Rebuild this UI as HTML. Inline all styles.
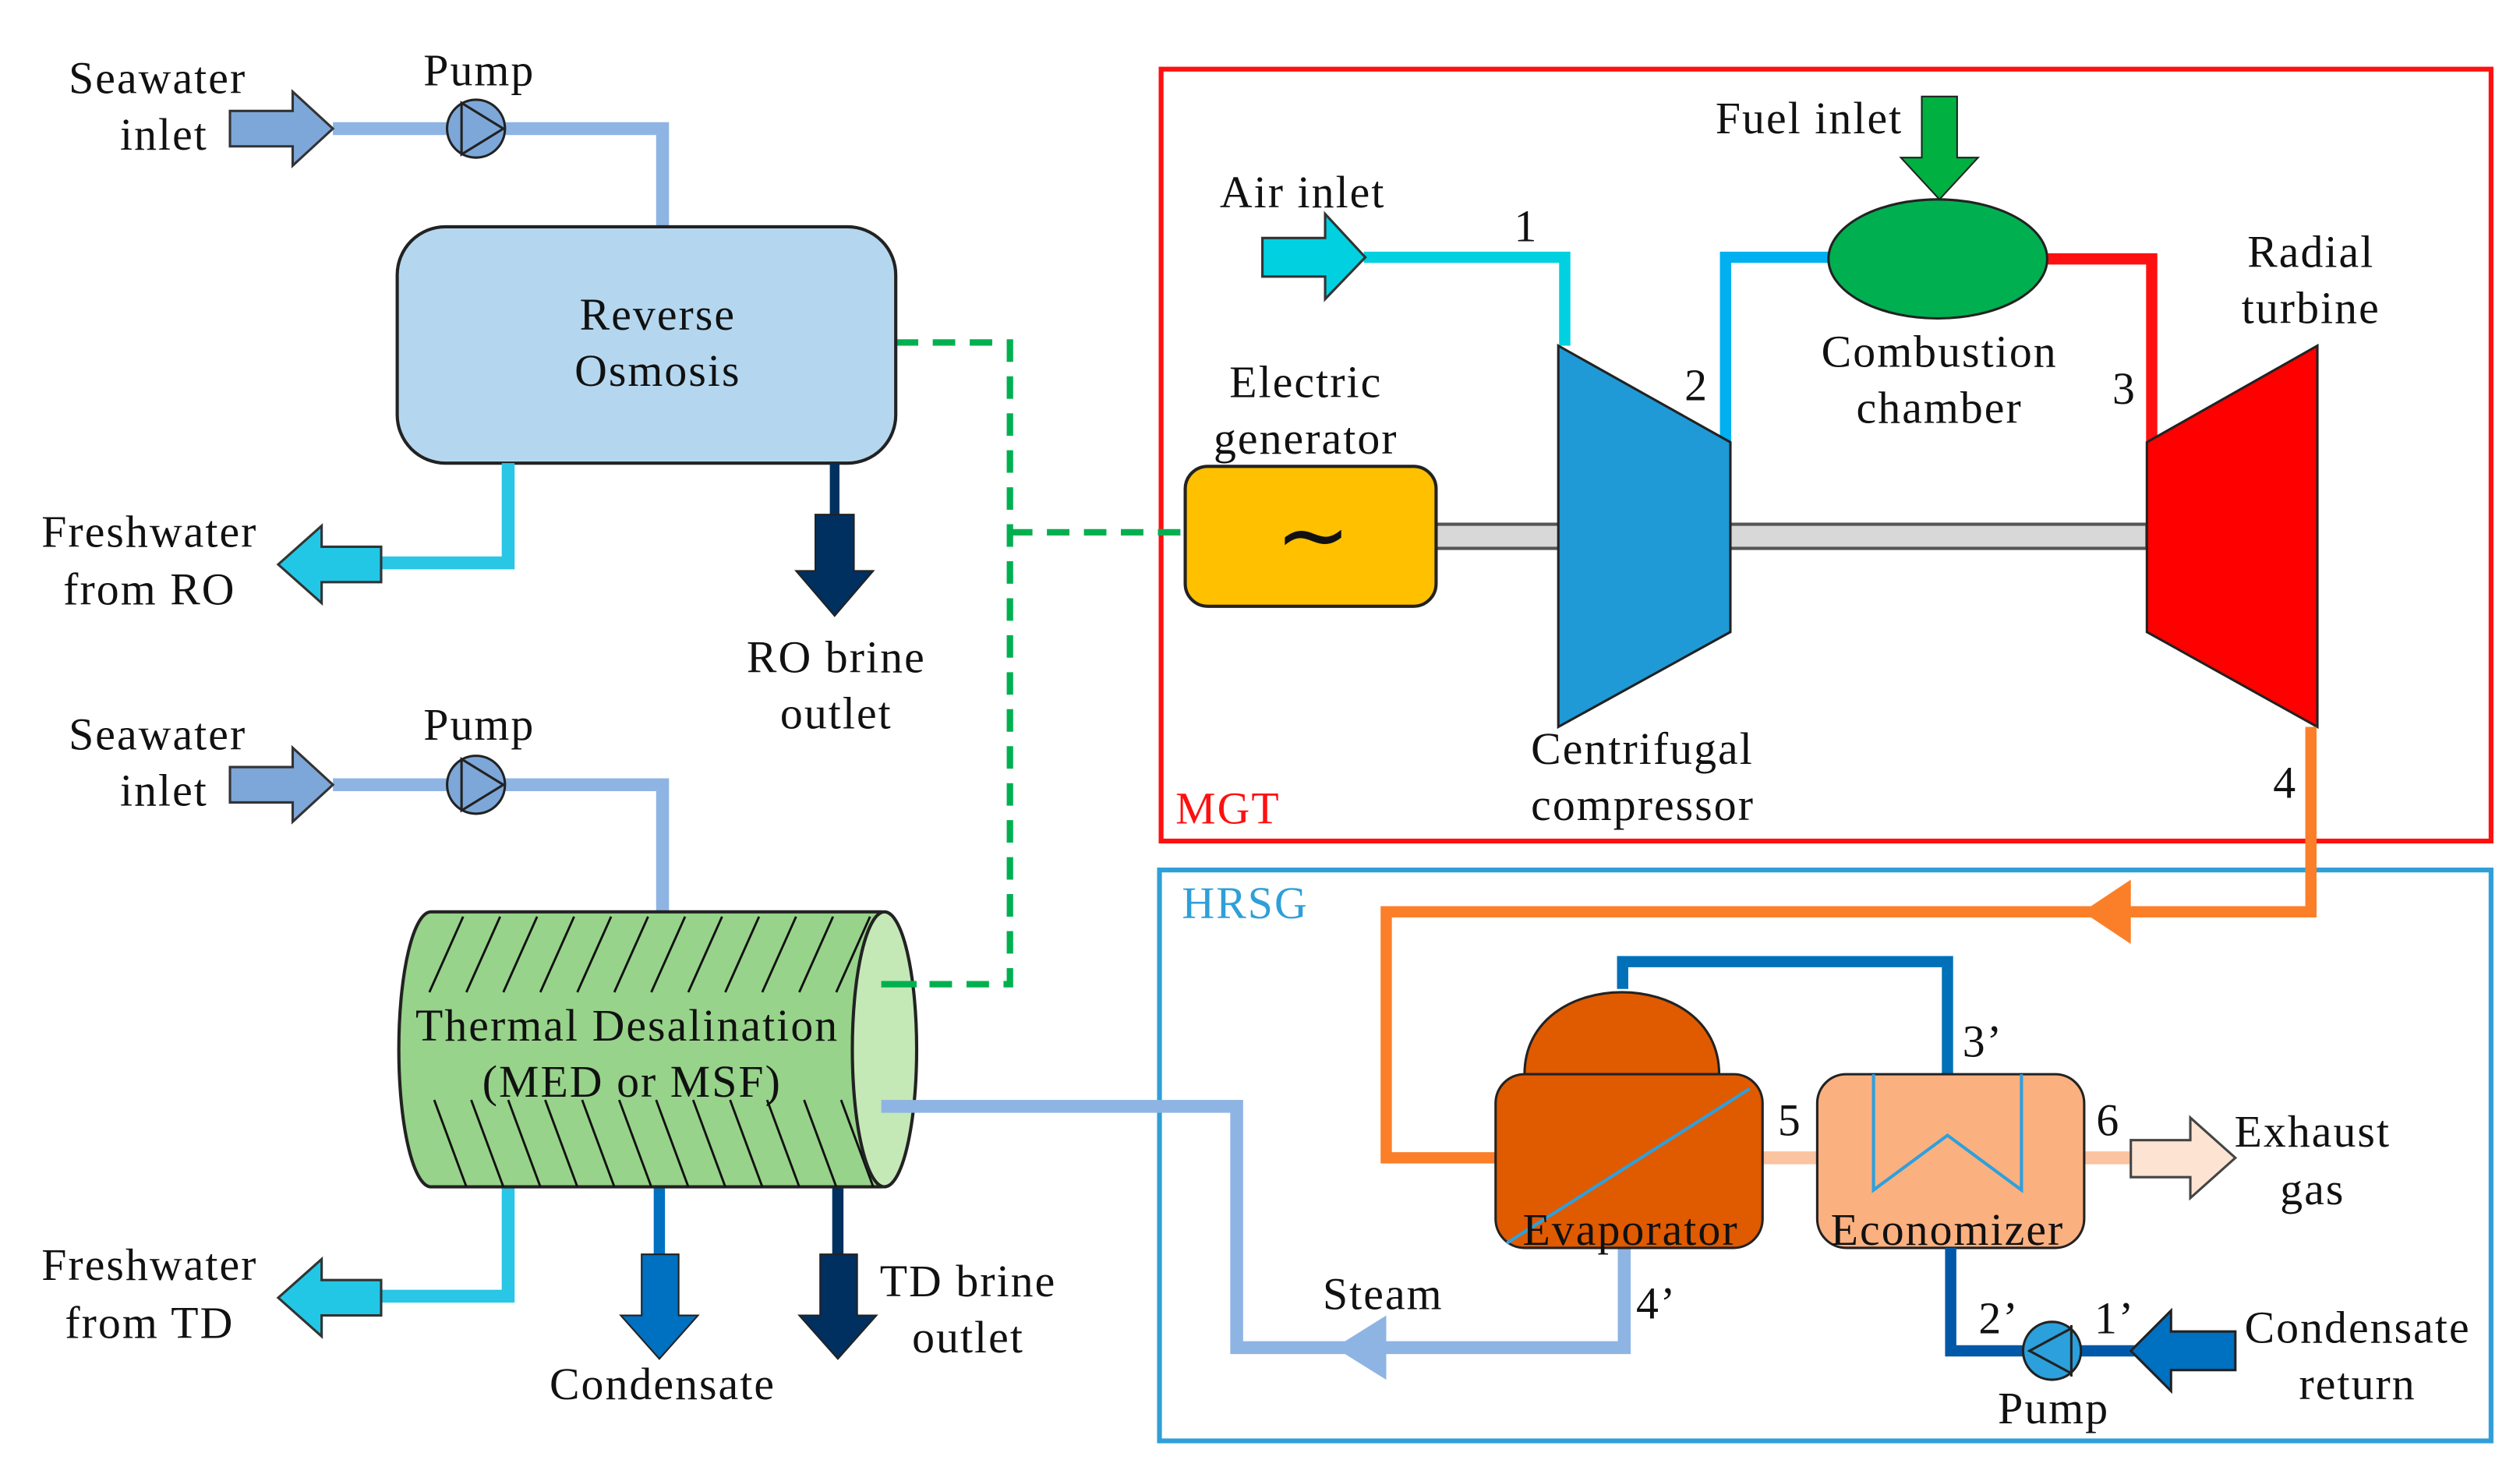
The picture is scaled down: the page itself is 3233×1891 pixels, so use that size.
<!DOCTYPE html>
<html><head><meta charset="utf-8"><style>
html,body{margin:0;padding:0;background:#fff;}
svg{display:block;}
text{font-family:"Liberation Serif","DejaVu Serif",serif;font-size:28px;letter-spacing:1px;fill:#111;}
</style></head><body>
<svg width="3233" height="1891" viewBox="0 0 1567 916.6" preserveAspectRatio="none" xmlns="http://www.w3.org/2000/svg">
<defs>
<clipPath id="cyl"><path d="M268,567 L548,567 A20,85.5 0 0 1 548,738 L268,738 A20,85.5 0 0 1 268,567 Z"/></clipPath>
</defs>
<rect width="1567" height="916.6" fill="#fff"/>

<!-- Frames -->
<rect x="722" y="43" width="827" height="480" fill="none" stroke="#ff1010" stroke-width="3"/>
<text x="731" y="512" style="fill:#ff1010">MGT</text>
<rect x="721" y="541" width="828" height="355" fill="none" stroke="#2f9fd8" stroke-width="3"/>
<text x="735" y="571" style="fill:#2f9fd8">HRSG</text>

<!-- Green dashed -->
<g fill="none" stroke="#00b050" stroke-width="4" stroke-dasharray="14 9">
<path d="M557,213 H628 V612 H548"/>
<path d="M628,331 H737"/>
</g>

<!-- RO section -->
<path d="M207,80 H412 V141" fill="none" stroke="#8eb4e3" stroke-width="8"/>
<path d="M143,69 H182 V57 L207,80 L182,103 V91 H143 Z" fill="#7da7d9" stroke="#333" stroke-width="1.5"/>
<circle cx="296" cy="80" r="18" fill="#7da7d9" stroke="#222" stroke-width="1.5"/>
<path d="M287,64 L313,80 L287,96 Z" fill="none" stroke="#222" stroke-width="1.5"/>
<text x="98" y="58" text-anchor="middle">Seawater</text>
<text x="102" y="93" text-anchor="middle">inlet</text>
<text x="298" y="53" text-anchor="middle">Pump</text>

<rect x="247" y="141" width="310" height="147" rx="30" fill="#b4d7ef" stroke="#222" stroke-width="2"/>
<text x="409" y="205" text-anchor="middle">Reverse</text>
<text x="409" y="240" text-anchor="middle">Osmosis</text>

<path d="M316,288 V350 H237" fill="none" stroke="#29c6e6" stroke-width="8"/>
<path d="M237,340 H200 V327 L173,351 L200,375 V362 H237 Z" fill="#22c7e6" stroke="#333" stroke-width="1.5"/>
<text x="93" y="340" text-anchor="middle">Freshwater</text>
<text x="93" y="376" text-anchor="middle">from RO</text>

<path d="M519,288 V320" stroke="#003060" stroke-width="6"/>
<path d="M507,320 H531 V355 H543 L519,383 L495,355 H507 Z" fill="#003060" stroke="#222" stroke-width="1"/>
<text x="520" y="418" text-anchor="middle">RO brine</text>
<text x="520" y="453" text-anchor="middle">outlet</text>

<!-- TD section -->
<path d="M207,488 H412 V567" fill="none" stroke="#8eb4e3" stroke-width="8"/>
<path d="M143,477 H182 V465 L207,488 L182,511 V499 H143 Z" fill="#7da7d9" stroke="#333" stroke-width="1.5"/>
<circle cx="296" cy="488" r="18" fill="#7da7d9" stroke="#222" stroke-width="1.5"/>
<path d="M287,472 L313,488 L287,504 Z" fill="none" stroke="#222" stroke-width="1.5"/>
<text x="98" y="466" text-anchor="middle">Seawater</text>
<text x="102" y="501" text-anchor="middle">inlet</text>
<text x="298" y="460" text-anchor="middle">Pump</text>

<path d="M316,738 V806 H237" fill="none" stroke="#29c6e6" stroke-width="8"/>
<path d="M237,796 H200 V783 L173,807 L200,831 V818 H237 Z" fill="#22c7e6" stroke="#333" stroke-width="1.5"/>
<text x="93" y="796" text-anchor="middle">Freshwater</text>
<text x="93" y="832" text-anchor="middle">from TD</text>

<path d="M410,738 V782" stroke="#0070c0" stroke-width="7"/>
<path d="M399,780 H422 V818 H434 L410,845 L386,818 H399 Z" fill="#0070c0" stroke="#222" stroke-width="1"/>
<text x="412" y="870" text-anchor="middle">Condensate</text>
<path d="M521,738 V782" stroke="#003060" stroke-width="7"/>
<path d="M510,780 H533 V818 H545 L521,845 L497,818 H510 Z" fill="#003060" stroke="#222" stroke-width="1"/>
<text x="602" y="806" text-anchor="middle">TD brine</text>
<text x="602" y="841" text-anchor="middle">outlet</text>

<!-- Cylinder -->
<path d="M268,567 L548,567 A20,85.5 0 0 1 548,738 L268,738 A20,85.5 0 0 1 268,567 Z" fill="#97d38a" stroke="#222" stroke-width="2"/>
<g clip-path="url(#cyl)" stroke="#111" stroke-width="1.4">
<path d="M267,617 L288,570 M290,617 L311,570 M313,617 L334,570 M336,617 L357,570 M359,617 L380,570 M382,617 L403,570 M405,617 L426,570 M428,617 L449,570 M451,617 L472,570 M474,617 L495,570 M497,617 L518,570 M520,617 L541,570"/>
<path d="M270,684 L290,738 M293,684 L313,738 M316,684 L336,738 M339,684 L359,738 M362,684 L382,738 M385,684 L405,738 M408,684 L428,738 M431,684 L451,738 M454,684 L474,738 M477,684 L497,738 M500,684 L520,738 M523,684 L543,738"/>
</g>
<ellipse cx="550" cy="652.5" rx="20" ry="85.5" fill="#c5e8b7" stroke="#222" stroke-width="2"/>
<path d="M548,688 H769 V838 H1010 V776" fill="none" stroke="#8eb4e3" stroke-width="8"/>
<path d="M862,818 L830,838 L862,858 Z" fill="#8eb4e3"/>
<path d="M548,612 H570" stroke="#00b050" stroke-width="4"/>
<text x="390" y="647" text-anchor="middle">Thermal Desalination</text>
<text x="393" y="682" text-anchor="middle">(MED or MSF)</text>

<!-- MGT -->
<path d="M848,160 H973 V215" fill="none" stroke="#00d0e0" stroke-width="7"/>
<path d="M785,148 H824 V133 L849,160 L824,186 V172 H785 Z" fill="#00d0e0" stroke="#333" stroke-width="1.5"/>
<text x="810" y="129" text-anchor="middle">Air inlet</text>
<text x="949" y="150" text-anchor="middle">1</text>

<rect x="893" y="326" width="442" height="15" fill="#d8d8d8" stroke="#555" stroke-width="2"/>
<path d="M1073,275 V160 H1140" fill="none" stroke="#00b0f0" stroke-width="7"/>
<path d="M1270,161 H1338 V280" fill="none" stroke="#ff1010" stroke-width="7"/>
<polygon points="969,215 1076,275 1076,393 969,452" fill="#1f9ad6" stroke="#222" stroke-width="1.5"/>
<polygon points="1335,275 1441,215 1441,452 1335,393" fill="#ff0000" stroke="#222" stroke-width="1.5"/>
<text x="1055" y="249" text-anchor="middle">2</text>
<text x="1321" y="251" text-anchor="middle">3</text>

<path d="M1195,60 H1217 V98 H1230 L1206,124 L1182,98 H1195 Z" fill="#00b040" stroke="#222" stroke-width="1"/>
<text x="1125" y="83" text-anchor="middle">Fuel inlet</text>
<ellipse cx="1205" cy="161" rx="68" ry="37" fill="#00b050" stroke="#222" stroke-width="1.5"/>
<text x="1206" y="228" text-anchor="middle">Combustion</text>
<text x="1206" y="263" text-anchor="middle">chamber</text>
<text x="1437" y="166" text-anchor="middle">Radial</text>
<text x="1437" y="201" text-anchor="middle">turbine</text>

<rect x="737" y="290" width="156" height="87" rx="14" fill="#ffc000" stroke="#222" stroke-width="2"/>
<text x="817" y="352" text-anchor="middle" style="font-size:56px;font-family:'DejaVu Sans',sans-serif">~</text>
<text x="812" y="247" text-anchor="middle">Electric</text>
<text x="812" y="282" text-anchor="middle">generator</text>
<text x="952" y="475">Centrifugal</text>
<text x="952" y="510">compressor</text>

<!-- HRSG -->
<path d="M1437,452 V567 H862 V720 H930" fill="none" stroke="#fb7f28" stroke-width="7"/>
<path d="M1325,547 L1295,567 L1325,587 Z" fill="#fb7f28"/>
<text x="1421" y="496" text-anchor="middle">4</text>

<path d="M1009,615 V598 H1211 V668" fill="none" stroke="#0070b8" stroke-width="7"/>
<text x="1233" y="657" text-anchor="middle">3’</text>
<path d="M1096,720 H1130 M1296,720 H1325" stroke="#fcc3a0" stroke-width="8"/>
<path d="M948,668 C948,600 1069,600 1069,668 Z" fill="#e05a00" stroke="#222" stroke-width="1.5"/>
<rect x="930" y="668" width="166" height="108" rx="18" fill="#e05a00" stroke="#222" stroke-width="1.5"/>
<path d="M937,773 L1088,677" stroke="#2ea0dc" stroke-width="2"/>
<text x="1014" y="774" text-anchor="middle">Evaporator</text>
<text x="1113" y="706" text-anchor="middle">5</text>

<rect x="1130" y="668" width="166" height="108" rx="18" fill="#fbb080" stroke="#222" stroke-width="1.5"/>
<path d="M1165,668 V740 L1211,706 L1257,740 V668" fill="none" stroke="#2ea0dc" stroke-width="2"/>
<text x="1211" y="774" text-anchor="middle">Economizer</text>
<text x="1311" y="706" text-anchor="middle">6</text>

<path d="M1325,709 H1362 V695 L1390,720 L1362,745 V732 H1325 Z" fill="#fde3d2" stroke="#444" stroke-width="1.5"/>
<text x="1438" y="713" text-anchor="middle">Exhaust</text>
<text x="1438" y="749" text-anchor="middle">gas</text>

<path d="M1213,776 V840 H1330" fill="none" stroke="#0058a8" stroke-width="7"/>
<circle cx="1276" cy="840" r="18" fill="#2ba0dc" stroke="#222" stroke-width="1.5"/>
<path d="M1262,840 L1288,826 L1288,854 Z M1288,824 V856" fill="none" stroke="#222" stroke-width="1.5"/>
<path d="M1390,828 H1350 V815 L1325,840 L1350,865 V852 H1390 Z" fill="#0070c0" stroke="#222" stroke-width="1.5"/>
<text x="1243" y="829" text-anchor="middle">2’</text>
<text x="1315" y="829" text-anchor="middle">1’</text>
<text x="1277" y="885" text-anchor="middle">Pump</text>
<text x="1466" y="835" text-anchor="middle">Condensate</text>
<text x="1466" y="870" text-anchor="middle">return</text>
<text x="1030" y="820" text-anchor="middle">4’</text>
<text x="860" y="814" text-anchor="middle">Steam</text>
</svg>
</body></html>
